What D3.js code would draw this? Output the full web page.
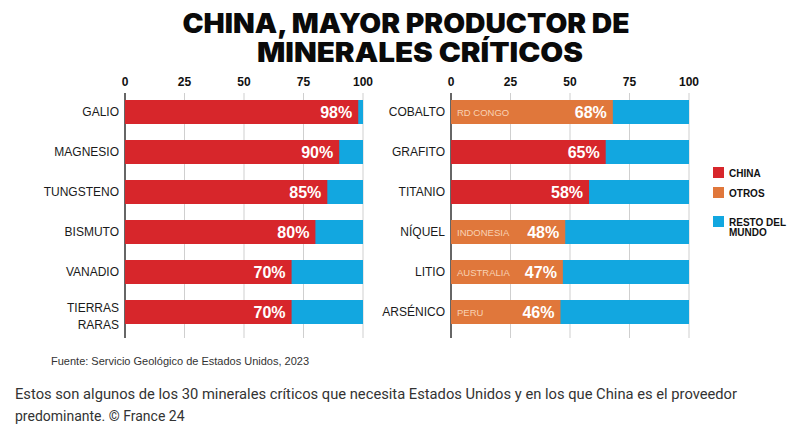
<!doctype html>
<html lang="es">
<head>
  <meta charset="utf-8">
  <title>China, mayor productor de minerales críticos</title>
  <style>
    body { margin: 0; background: #fff; }
    svg { display: block; }
  </style>
</head>
<body>
<div id="chart"></div>

<script src="https://cdnjs.cloudflare.com/ajax/libs/d3/7.8.5/d3.min.js"></script>
<script>

// data
const leftMinerals = ["GALIO", "MAGNESIO", "TUNGSTENO", "BISMUTO", "VANADIO", "TIERRAS RARAS"]
const leftShares = [98, 90, 85, 80, 70, 70]
const leftProducers = ["china", "china", "china", "china", "china", "china"]
const leftCountries = ["", "", "", "", "", ""]

const rightMinerals = ["COBALTO", "GRAFITO", "TITANIO", "NÍQUEL", "LITIO", "ARSÉNICO"]
const rightShares = [68, 65, 58, 48, 47, 46]
const rightProducers = ["otros", "china", "china", "otros", "otros", "otros"]
const rightCountries = ["RD CONGO", "", "", "INDONESIA", "AUSTRALIA", "PERU"]

const ticks = [0, 25, 50, 75, 100]
const legendKeys = ["china", "otros", "resto"]
const legendLabels = [["CHINA"], ["OTROS"], ["RESTO DEL", "MUNDO"]]

const colors = { china: "#d7262b", otros: "#e0773b", resto: "#12a7e0" }

const w = 801, h = 430
const font = "'Liberation Sans', Arial, Helvetica, sans-serif"

let svg = d3.select("#chart").append("svg")
  .attr("width", w)
  .attr("height", h)

// title
const title = ["CHINA, MAYOR PRODUCTOR DE", "MINERALES CRÍTICOS"]
const titleWidth = [447, 326]
title.forEach((t, i) => {
  svg.append("text")
    .text(t)
    .attr("x", 406 + i * 14)
    .attr("y", 33 + i * 29)
    .attr("text-anchor", "middle")
    .attr("textLength", titleWidth[i])
    .attr("lengthAdjust", "spacingAndGlyphs")
    .style("font-family", "Inter, 'Liberation Sans', sans-serif")
    .style("font-weight", 900)
    .style("font-size", "27px")
    .style("fill", "#0a0a0a")
})

// one bar panel
function panel(x0, minerals, shares, producers, countries) {
  const x = d3.scaleLinear().domain([0, 100]).range([x0, x0 + 238])
  const y = d3.scaleBand().domain(minerals).range([100, 324]).paddingInner(0.4)

  let g = svg.append("g")

  // grid + tick labels
  g.selectAll(".grid")
    .data(ticks)
    .join("line")
      .attr("x1", d => x(d))
      .attr("x2", d => x(d))
      .attr("y1", 93)
      .attr("y2", 338)
      .attr("stroke", d => d === 0 ? "#333" : "#cfcfcf")
      .attr("stroke-width", d => d === 0 ? 1.5 : 1)

  g.selectAll(".tick")
    .data(ticks)
    .join("text")
      .text(d => d)
      .attr("x", d => x(d))
      .attr("y", 86)
      .attr("text-anchor", "middle")
      .style("font-family", font)
      .style("font-weight", "bold")
      .style("font-size", "12px")
      .style("fill", "#111")

  const rows = minerals.map((m, i) => ({ m, v: shares[i], p: producers[i], c: countries[i] }))

  // rest of world (full bar) then the leading producer on top
  g.selectAll(".rest")
    .data(rows)
    .join("rect")
      .attr("x", x(0))
      .attr("y", d => y(d.m))
      .attr("width", x(100) - x(0))
      .attr("height", y.bandwidth())
      .attr("fill", colors.resto)

  g.selectAll(".main")
    .data(rows)
    .join("rect")
      .attr("x", x(0))
      .attr("y", d => y(d.m))
      .attr("width", d => x(d.v) - x(0))
      .attr("height", y.bandwidth())
      .attr("fill", d => colors[d.p])

  // percentages
  g.selectAll(".pct")
    .data(rows)
    .join("text")
      .text(d => d.v + "%")
      .attr("x", d => x(d.v) - 6)
      .attr("y", d => y(d.m) + y.bandwidth() / 2 + 6)
      .attr("text-anchor", "end")
      .style("font-family", font)
      .style("font-weight", "bold")
      .style("font-size", "16px")
      .style("fill", "#fff")

  // country names inside orange bars
  g.selectAll(".country")
    .data(rows.filter(d => d.c))
    .join("text")
      .text(d => d.c)
      .attr("x", x(0) + 6)
      .attr("y", d => y(d.m) + y.bandwidth() / 2 + 3.5)
      .style("font-family", font)
      .style("font-size", "9.5px")
      .style("fill", "#f8d2b4")

  // mineral labels, split on space for two-word names
  rows.forEach(d => {
    const parts = d.m.split(" ")
    const cy = y(d.m) + y.bandwidth() / 2
    parts.forEach((p, j) => {
      g.append("text")
        .text(p)
        .attr("x", x(0) - 6)
        .attr("y", parts.length > 1 ? cy + j * 17 : cy + 4)
        .attr("text-anchor", "end")
        .style("font-family", font)
        .style("font-size", "12px")
        .style("fill", "#1a1a1a")
    })
  })
}

panel(125, leftMinerals, leftShares, leftProducers, leftCountries)
panel(451, rightMinerals, rightShares, rightProducers, rightCountries)

// legend
const legendY = [167, 187, 216]
legendKeys.forEach((k, i) => {
  svg.append("rect")
    .attr("x", 713)
    .attr("y", legendY[i])
    .attr("width", 11)
    .attr("height", 11)
    .attr("fill", colors[k])
  legendLabels[i].forEach((l, j) => {
    svg.append("text")
      .text(l)
      .attr("x", 729)
      .attr("y", legendY[i] + 9.5 + j * 10)
      .style("font-family", font)
      .style("font-weight", "bold")
      .style("font-size", "10px")
      .style("fill", "#111")
  })
})

// source
svg.append("text")
  .text("Fuente: Servicio Geológico de Estados Unidos, 2023")
  .attr("x", 51)
  .attr("y", 365)
  .style("font-family", font)
  .style("font-size", "11px")
  .style("fill", "#333")

// caption below the image
const caption = [
  "Estos son algunos de los 30 minerales críticos que necesita Estados Unidos y en los que China es el proveedor",
  "predominante. © France 24"
]
caption.forEach((c, i) => {
  svg.append("text")
    .text(c)
    .attr("x", 15)
    .attr("y", 399 + i * 22)
    .attr("textLength", i === 0 ? 722 : null)
    .attr("lengthAdjust", "spacingAndGlyphs")
    .style("font-family", "Roboto, Inter, sans-serif")
    .style("font-size", "14px")
    .style("fill", "#333")
})

</script>
</body>
</html>
